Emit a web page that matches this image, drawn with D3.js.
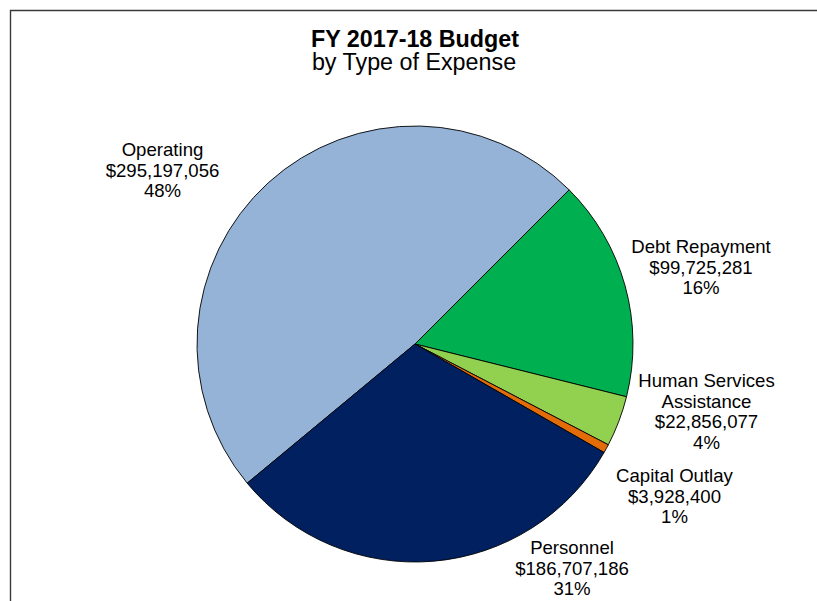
<!DOCTYPE html>
<html>
<head>
<meta charset="utf-8">
<script src="https://cdn.jsdelivr.net/npm/d3@7/dist/d3.min.js"></script>
<style>
  html, body { margin: 0; padding: 0; background: #fff; }
  svg { display: block; font-family: Arial, "Liberation Sans", sans-serif; }
</style>
</head>
<body>
<svg id="chart" width="817" height="601"></svg>
<script>
// Budget by type of expense, FY 2017-18
const categories = ["Operating", "Debt Repayment", "Human Services Assistance", "Capital Outlay", "Personnel"];
const amounts = [295197056, 99725281, 22856077, 3928400, 186707186];
const percentLabels = ["48%", "16%", "4%", "1%", "31%"];
const sliceColors = ["#95B3D7", "#00B050", "#92D050", "#E36C09", "#002060"];

// label text split across lines (category name may wrap)
const nameLines = [["Operating"], ["Debt Repayment"], ["Human Services", "Assistance"], ["Capital Outlay"], ["Personnel"]];

const svg = d3.select("#chart");
const W = 817, H = 601;

// frame
svg.append("path")
  .attr("d", `M10.5,${H} L10.5,10.5 L${W},10.5`)
  .attr("fill", "none")
  .attr("stroke", "#3a3a3a")
  .attr("stroke-width", 1.4);

// titles
svg.append("text")
  .attr("x", 415).attr("y", 47)
  .attr("text-anchor", "middle")
  .attr("font-size", 23.3).attr("font-weight", "bold")
  .attr("fill", "#000")
  .text("FY 2017-18 Budget");
svg.append("text")
  .attr("x", 414).attr("y", 70)
  .attr("text-anchor", "middle")
  .attr("font-size", 23.3)
  .attr("fill", "#000")
  .text("by Type of Expense");

const cx = 415, cy = 344, R = 218;
const total = d3.sum(amounts);
const data = categories.map((c, i) => ({ name: c, value: amounts[i], i }));

// first slice placed so the Operating / Debt boundary sits at 45 degrees
const start = Math.PI / 4 - 2 * Math.PI * amounts[0] / total;
const pie = d3.pie().value(d => d.value).sort(null)
  .startAngle(start).endAngle(start + 2 * Math.PI);
const arc = d3.arc().innerRadius(0).outerRadius(R);

const g = svg.append("g").attr("transform", `translate(${cx},${cy})`);
g.selectAll("path")
  .data(pie(data))
  .join("path")
  .attr("d", arc)
  .attr("fill", d => sliceColors[d.data.i])
  .attr("stroke", "#000")
  .attr("stroke-width", 0.9)
  .attr("stroke-linejoin", "round");

// label placement: centre x and first baseline for each slice
const labelPos = [
  [162.5, 156], [701, 253], [706.5, 387], [674.5, 482], [572, 554]
];
const fmt = d3.format(",");
const lineH = 20.7;

data.forEach((d, i) => {
  const lines = nameLines[i].concat(["$" + fmt(d.value), percentLabels[i]]);
  const t = svg.append("text")
    .attr("text-anchor", "middle")
    .attr("font-size", 18.6)
    .attr("fill", "#000");
  lines.forEach((s, k) => {
    t.append("tspan")
      .attr("x", labelPos[i][0])
      .attr("y", labelPos[i][1] + k * lineH)
      .text(s);
  });
});
</script>
</body>
</html>
